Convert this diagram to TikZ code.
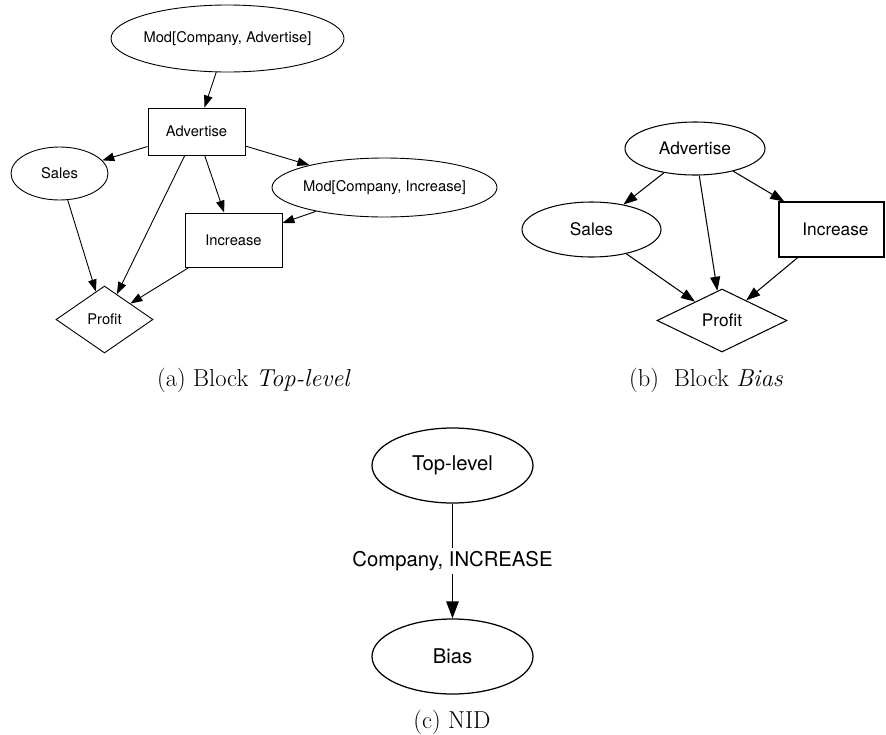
\documentclass[tikz,border=0pt]{standalone}
\usepackage{fontspec}
\newfontfamily\hv{TeX Gyre Heros}
\usetikzlibrary{shapes.geometric,arrows.meta}
\begin{document}
\begin{tikzpicture}[x=1pt,y=-1pt,
  base/.style={draw,inner sep=0pt},
  ell/.style={base,ellipse},
  boxnode/.style={base,rectangle},
  dia/.style={base,diamond},
  fa/.style={font=\hv\fontsize{14.7}{17}\selectfont,line width=0.9pt},
  fb/.style={font=\hv\fontsize{17.3}{20}\selectfont,line width=1.05pt},
  fc/.style={font=\hv\fontsize{20.3}{24}\selectfont,line width=1.25pt},
  arr/.style={-{Triangle[length=12pt,width=8.5pt]},line width=0.9pt},
  arrb/.style={-{Triangle[length=14pt,width=10pt]},line width=1.05pt},
  arrc/.style={-{Triangle[length=17pt,width=12.5pt]},line width=1.25pt},
  captext/.style={font=\fontsize{24.5}{29}\selectfont}]
\useasboundingbox (0,0) rectangle (886,734);
\clip (0,0) rectangle (886,734);
% ---------- (a) ----------
\node[ell,fa,inner xsep=-2.5pt,minimum width=233pt,minimum height=67pt] (modA) at (227.5,38.5) {Mod[Company, Advertise]};
\node[boxnode,fa,minimum width=97pt,minimum height=47pt] (advA) at (196.5,131.5) {Advertise};
\node[ell,fa,minimum width=97pt,minimum height=53pt] (salesA) at (59.5,173.5) {Sales};
\node[ell,fa,inner xsep=-3pt,minimum width=225pt,minimum height=59pt] (modI) at (384.5,187.5) {Mod[Company, Increase]};
\node[boxnode,fa,minimum width=97pt,minimum height=54pt] (incA) at (233.5,240) {Increase};
\node[dia,fa,minimum width=97pt,minimum height=67pt] (profA) at (104.5,319.5) {Profit};
\draw[arr] (modA) -- (advA);
\draw[arr] (advA) -- (salesA);
\draw[arr] (advA) -- (profA);
\draw[arr] (advA) -- (incA);
\draw[arr] (advA) -- (modI);
\draw[arr] (modI) -- (incA);
\draw[arr] (salesA) -- (profA);
\draw[arr] (incA) -- (profA);
\node[captext] (capA) at (254,380) {(a) Block \textit{Top-level}};
% ---------- (b) ----------
\node[ell,fb,minimum width=140pt,minimum height=53pt] (advB) at (695,148.5) {Advertise};
\node[ell,fb,minimum width=139pt,minimum height=55pt] (salesB) at (591.5,229.5) {Sales};
\node[boxnode,fb,minimum width=105pt,minimum height=55pt] (incB) at (831.5,229.5) {\hspace{8pt}Increase};
\node[dia,fb,minimum width=130pt,minimum height=63pt] (profB) at (722,320.5) {Profit};
\draw[arrb] (advB) -- (salesB);
\draw[arrb] (advB) -- (profB);
\draw[arrb] (advB) -- (incB);
\draw[arrb] (salesB) -- (profB);
\draw[arrb] (incB) -- (profB);
\node[captext] (capB) at (706,380) {(b)\ \ Block \textit{Bias}};
% ---------- (c) ----------
\node[ell,fc,minimum width=161pt,minimum height=75pt] (top) at (452.5,465.5) {Top-level};
\node[ell,fc,minimum width=161pt,minimum height=75pt] (bias) at (452.5,656.5) {Bias};
\draw[arrc] (top) -- node[fill=white,inner sep=3pt,font=\hv\fontsize{20.3}{24}\selectfont] (lab) {Company, INCREASE} (bias);
\node[captext] (capC) at (452,722) {(c) NID};
\end{tikzpicture}
\end{document}
